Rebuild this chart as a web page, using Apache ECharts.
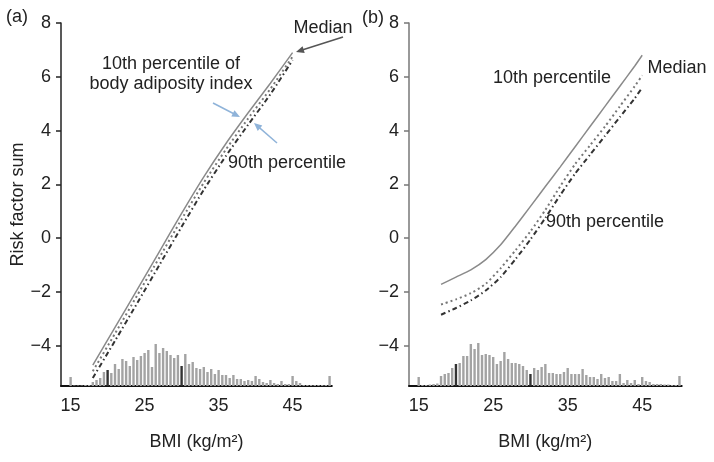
<!DOCTYPE html>
<html>
<head>
<meta charset="utf-8">
<script src="https://cdn.jsdelivr.net/npm/echarts@6/dist/echarts.min.js"></script>
<style>
  html, body { margin: 0; padding: 0; background: #fff; }
  #chart { width: 714px; height: 462px; }
</style>
</head>
<body>
<div id="chart"></div>
<script>
// risk factor sum curves, panel (a)
const leftBmi = [18, 21, 24, 27, 30, 33, 36, 39, 42, 45];
const leftP10 = [-4.72, -3.32, -1.92, -0.5, 0.92, 2.28, 3.52, 4.66, 5.76, 6.9];
const leftMedian = [-4.95, -3.55, -2.13, -0.72, 0.7, 2.06, 3.3, 4.45, 5.55, 6.75];
const leftP90 = [-5.2, -3.82, -2.42, -1.0, 0.42, 1.8, 3.06, 4.22, 5.35, 6.62];

// risk factor sum curves, panel (b)
const rightBmi = [18, 20, 22, 24, 26, 28, 30, 32, 34, 36, 38, 40, 42, 44, 45];
const rightP10 = [-1.72, -1.45, -1.18, -0.8, -0.25, 0.45, 1.18, 1.92, 2.65, 3.4, 4.15, 4.9, 5.65, 6.4, 6.8];
const rightMedian = [-2.47, -2.28, -2.05, -1.7, -1.12, -0.45, 0.25, 1.05, 1.93, 2.75, 3.45, 4.15, 4.9, 5.65, 6.05];
const rightP90 = [-2.85, -2.6, -2.32, -1.95, -1.45, -0.78, -0.05, 0.75, 1.6, 2.4, 3.1, 3.8, 4.5, 5.2, 5.6];

// BMI distribution (relative frequency, arbitrary units)
const histBins = [
  15, 15.5, 16, 16.5, 17, 17.5, 18, 18.5, 19, 19.5,
  20, 20.5, 21, 21.5, 22, 22.5, 23, 23.5, 24, 24.5,
  25, 25.5, 26, 26.5, 27, 27.5, 28, 28.5, 29, 29.5,
  30, 30.5, 31, 31.5, 32, 32.5, 33, 33.5, 34, 34.5,
  35, 35.5, 36, 36.5, 37, 37.5, 38, 38.5, 39, 39.5,
  40, 40.5, 41, 41.5, 42, 42.5, 43, 43.5, 44, 44.5,
  45, 45.5, 46, 46.5, 47, 47.5, 48, 48.5, 49, 49.5,
  50
];
const histLeft = [
  9, 0.5, 0.5, 0.5, 1, 1, 4, 6, 8, 14,
  16, 13, 22, 17, 27, 25, 20, 29, 26, 30,
  33, 36, 19, 42, 33, 38, 35, 31, 28, 31,
  20, 32, 22, 24, 18, 17, 19, 14, 17, 12,
  16, 11, 11, 8, 11, 7, 7, 5, 6, 5,
  10, 7, 4, 3, 6, 3, 2, 5, 2, 2,
  10, 5, 3, 1, 1, 1, 1, 1, 1, 1,
  10
];
const histRight = [
  9, 1, 1, 1.5, 2, 2.5, 10, 12, 13, 18,
  22, 23, 30, 30, 42, 37, 43, 31, 32, 31,
  29, 22, 25, 34, 27, 23, 23, 22, 20, 16,
  12, 18, 16, 19, 22, 13, 13, 12, 12, 14,
  18, 12, 12, 12, 17, 11, 9, 9, 7, 12,
  8, 9, 5, 5, 12, 3, 6, 3, 6, 2,
  9, 5, 4, 2, 2, 2, 1.5, 1.5, 1, 1,
  10
];
const darkBins = [20, 30];

const yTicks = [-4, -2, 0, 2, 4, 6, 8];
const xTicks = [15, 25, 35, 45];

const font = 'Liberation Sans, Arial, sans-serif';
const minus = v => String(v).replace('-', '\u2212');
const pairs = (xs, ys) => xs.map((x, i) => [x, ys[i]]);

function arrow(x1, y1, x2, y2, color) {
    const dx = x2 - x1, dy = y2 - y1, len = Math.hypot(dx, dy);
    const ux = dx / len, uy = dy / len;
    const L = 8, W = 3.5;
    return [
        { type: 'line', shape: { x1: x1, y1: y1, x2: x2 - ux * L * 0.6, y2: y2 - uy * L * 0.6 },
          style: { stroke: color, lineWidth: 1.5 } },
        { type: 'polygon', shape: { points: [[x2, y2],
            [x2 - ux * L - uy * W, y2 - uy * L + ux * W],
            [x2 - ux * L + uy * W, y2 - uy * L - ux * W]] },
          style: { fill: color } }
    ];
}

function label(text, x, y) {
    return { type: 'text', x: x, y: y,
        style: { text: text, fill: '#222', font: '18px ' + font, align: 'center', verticalAlign: 'middle' } };
}

function xAxisFor(gridIndex) {
    return {
        type: 'value', gridIndex: gridIndex, min: 13.7, max: 50.3,
        name: 'BMI (kg/m\u00b2)', nameLocation: 'middle', nameGap: 47,
        nameTextStyle: { fontSize: 18, color: '#222', fontFamily: font },
        axisLine: { onZero: false, lineStyle: { color: '#111', width: 2 } },
        axisTick: { show: false },
        splitLine: { show: false },
        axisLabel: { customValues: xTicks, fontSize: 18, color: '#222', fontFamily: font, margin: 11 }
    };
}

function yAxisFor(gridIndex, color) {
    return {
        type: 'value', gridIndex: gridIndex, min: -5.5, max: 8,
        axisLine: { show: true, onZero: false, lineStyle: { color: color, width: 1.5 } },
        axisTick: { show: true, customValues: yTicks, length: 5, lineStyle: { color: color, width: 1.5 } },
        splitLine: { show: false },
        axisLabel: { customValues: yTicks, formatter: minus, fontSize: 18, color: '#222',
                     fontFamily: font, margin: 10 }
    };
}

function histAxis(gridIndex) {
    return { type: 'value', gridIndex: gridIndex, min: 0, max: 363, show: false, splitLine: { show: false } };
}

function curves(xIdx, yIdx, xs, p10, med, p90) {
    const base = { type: 'line', xAxisIndex: xIdx, yAxisIndex: yIdx, smooth: 0.2,
                   showSymbol: false, silent: true, z: 3 };
    return [
        Object.assign({}, base, { name: '10th percentile', data: pairs(xs, p10),
            lineStyle: { color: '#8a8a8a', width: 1.5, type: 'solid' } }),
        Object.assign({}, base, { name: 'Median', data: pairs(xs, med),
            lineStyle: { color: '#777', width: 2, type: [2, 3] } }),
        Object.assign({}, base, { name: '90th percentile', data: pairs(xs, p90),
            lineStyle: { color: '#333', width: 2, type: [5, 3, 1.5, 3] } })
    ];
}

function hist(xIdx, yIdx, values) {
    return {
        type: 'bar', xAxisIndex: xIdx, yAxisIndex: yIdx, barWidth: 2.4, silent: true, z: 2,
        data: pairs(histBins, values),
        itemStyle: { color: p => darkBins.includes(p.value[0]) ? '#333' : '#a3a3a3' }
    };
}

const chart = echarts.init(document.getElementById('chart'), null, { renderer: 'canvas' });

const option = {
    animation: false,
    backgroundColor: '#fff',
    grid: [
        { left: 61, top: 23, width: 270.8, height: 363 },
        { left: 409, top: 23, width: 272.7, height: 363 }
    ],
    xAxis: [xAxisFor(0), xAxisFor(1)],
    yAxis: [
        Object.assign(yAxisFor(0, '#222'), {
            name: 'Risk factor sum', nameLocation: 'middle', nameGap: 33,
            nameTextStyle: { fontSize: 18, color: '#222', fontFamily: font }
        }),
        yAxisFor(1, '#777'),
        histAxis(0),
        histAxis(1)
    ],
    series: [
        hist(0, 2, histLeft),
        hist(1, 3, histRight),
        ...curves(0, 0, leftBmi, leftP10, leftMedian, leftP90),
        ...curves(1, 1, rightBmi, rightP10, rightMedian, rightP90)
    ],
    graphic: [
        label('(a)', 17, 17),
        label('(b)', 373, 18),
        label('Median', 323, 28),
        label('10th percentile of', 171, 64),
        label('body adiposity index', 171, 84),
        label('90th percentile', 287, 163),
        label('10th percentile', 552, 78),
        label('Median', 677, 68),
        label('90th percentile', 605, 222),
        ...arrow(343, 37, 296, 52, '#555'),
        ...arrow(213, 103, 240, 117, '#8fb3d9'),
        ...arrow(277, 143, 254, 123, '#8fb3d9')
    ]
};

chart.setOption(option);
</script>
</body>
</html>
